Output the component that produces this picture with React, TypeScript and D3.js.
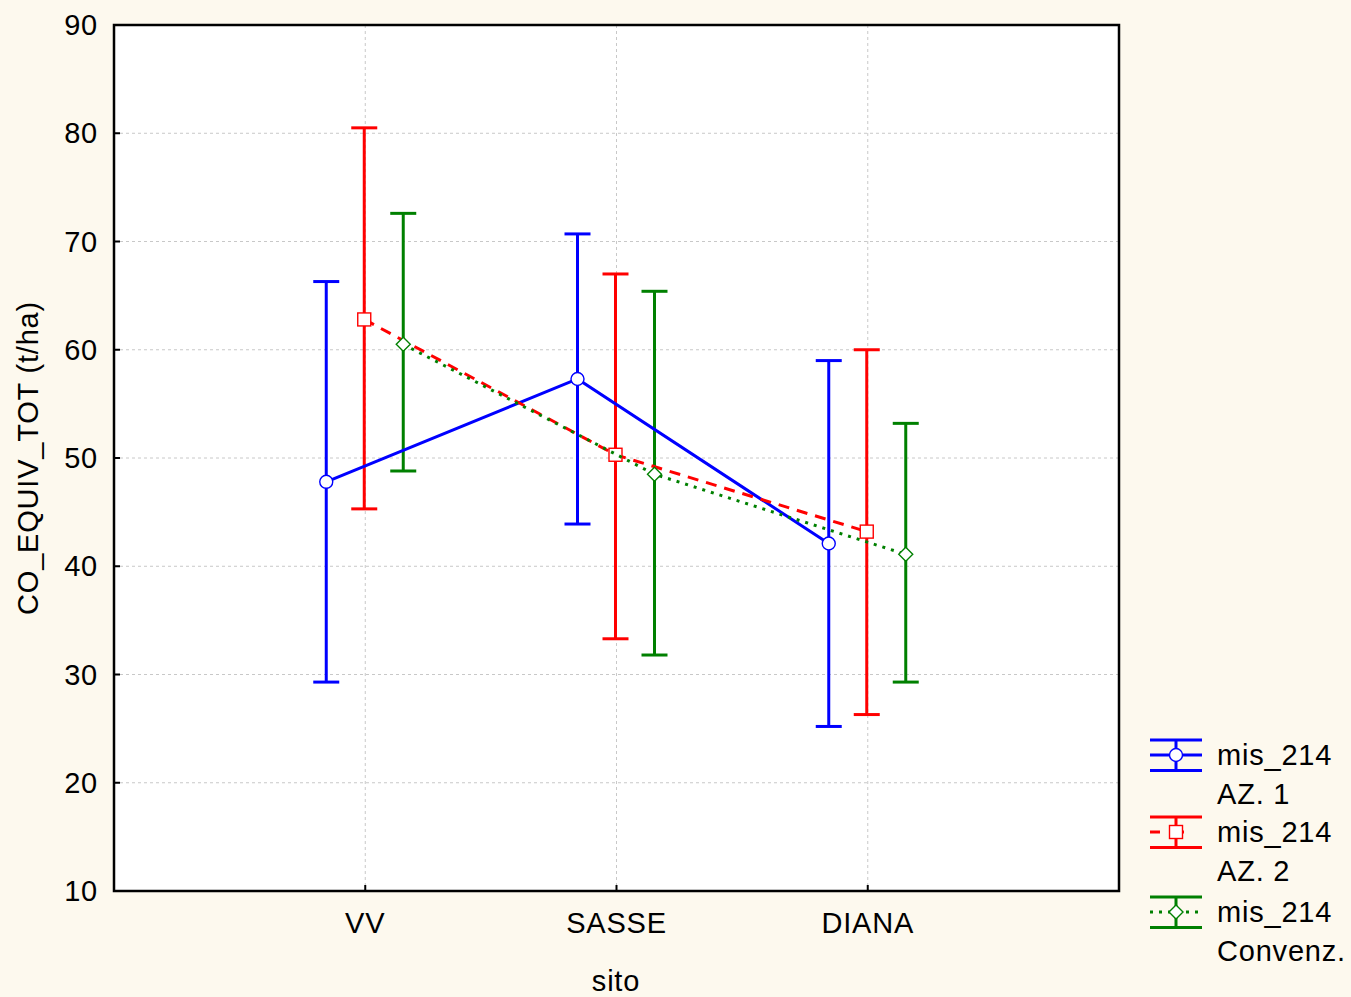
import React from "react";
import * as d3 from "d3";

const categories = ["VV", "SASSE", "DIANA"];
const seriesNames = ["mis_214\nAZ. 1", "mis_214\nAZ. 2", "mis_214\nConvenz."];
const blueMean = [47.8, 57.3, 42.1];
const blueUpper = [66.3, 70.7, 59.0];
const blueLower = [29.3, 43.9, 25.2];
const redMean = [62.8, 50.3, 43.2];
const redUpper = [80.5, 67.0, 60.0];
const redLower = [45.3, 33.3, 26.3];
const greenMean = [60.5, 48.5, 41.1];
const greenUpper = [72.6, 65.4, 53.2];
const greenLower = [48.8, 31.8, 29.3];
const yTicks = [10, 20, 30, 40, 50, 60, 70, 80, 90];

const W = 1351, H = 997;
const M = { left: 114, top: 25, right: 1119, bottom: 891 };
const FONT = "Liberation Sans, Arial, sans-serif";
const FS = 29;
const LS = 0.8;

type S = { name: string; color: string; mean: number[]; up: number[]; lo: number[]; dash: string | null; marker: string; off: number };

export default function App() {
  const x = d3.scalePoint<string>().domain(categories).range([M.left, M.right]).padding(1);
  const y = d3.scaleLinear().domain([10, 90]).range([M.bottom, M.top]);
  const series: S[] = [
    { name: seriesNames[0], color: "#0000FF", mean: blueMean, up: blueUpper, lo: blueLower, dash: null, marker: "circle", off: -39 },
    { name: seriesNames[1], color: "#FF0000", mean: redMean, up: redUpper, lo: redLower, dash: "11,8", marker: "square", off: -1 },
    { name: seriesNames[2], color: "#008000", mean: greenMean, up: greenUpper, lo: greenLower, dash: "3,6", marker: "diamond", off: 38 },
  ];
  const marker = (kind: string, cx: number, cy: number, color: string, key: string) => {
    if (kind === "circle") return <circle key={key} cx={cx} cy={cy} r={6.5} fill="#fff" stroke={color} strokeWidth={1.4} />;
    if (kind === "square") return <rect key={key} x={cx - 6.5} y={cy - 6.5} width={13} height={13} fill="#fff" stroke={color} strokeWidth={1.4} />;
    return <path key={key} d={`M${cx},${cy - 7}L${cx + 7},${cy}L${cx},${cy + 7}L${cx - 7},${cy}Z`} fill="#fff" stroke={color} strokeWidth={1.4} />;
  };
  const line = d3.line<[number, number]>().x((d) => d[0]).y((d) => d[1]);
  const legendY = [755, 832, 912];
  return (
    <svg width={W} height={H} style={{ position: "absolute", left: 0, top: 0, display: "block" }} fontFamily={FONT} letterSpacing={LS}>
      <rect x={0} y={0} width={W} height={H} fill="#FDF9EE" />
      <rect x={M.left} y={M.top} width={M.right - M.left} height={M.bottom - M.top} fill="#fff" />
      {yTicks.slice(1, -1).map((t) => (
        <line key={"gy" + t} x1={M.left} x2={M.right} y1={y(t)} y2={y(t)} stroke="#c8c8c8" strokeWidth={1} strokeDasharray="3,3" />
      ))}
      {categories.map((c) => (
        <line key={"gx" + c} x1={x(c)!} x2={x(c)!} y1={M.top} y2={M.bottom} stroke="#c8c8c8" strokeWidth={1} strokeDasharray="3,3" />
      ))}
      {yTicks.map((t) => (
        <g key={"t" + t}>
          <line x1={M.left} x2={M.left + 6} y1={y(t)} y2={y(t)} stroke="#000" strokeWidth={2} />
          <text x={M.left - 16} y={y(t) + 10} textAnchor="end" fontSize={FS} fill="#000">{t}</text>
        </g>
      ))}
      {categories.map((c) => (
        <g key={"xt" + c}>
          <line x1={x(c)!} x2={x(c)!} y1={M.bottom} y2={M.bottom - 6} stroke="#000" strokeWidth={2} />
          <text x={x(c)!} y={M.bottom + 42} textAnchor="middle" fontSize={FS} fill="#000">{c}</text>
        </g>
      ))}
      {series.map((s, si) => (
        <g key={"s" + si}>
          {categories.map((c, i) => {
            const cx = x(c)! + s.off;
            return (
              <g key={"e" + i}>
                <line x1={cx} x2={cx} y1={y(s.up[i])} y2={y(s.lo[i])} stroke={s.color} strokeWidth={3} />
                <line x1={cx - 13} x2={cx + 13} y1={y(s.up[i])} y2={y(s.up[i])} stroke={s.color} strokeWidth={3} />
                <line x1={cx - 13} x2={cx + 13} y1={y(s.lo[i])} y2={y(s.lo[i])} stroke={s.color} strokeWidth={3} />
              </g>
            );
          })}
        </g>
      ))}
      {series.map((s, si) => {
        const pts: [number, number][] = categories.map((c, i) => [x(c)! + s.off, y(s.mean[i])]);
        return (
          <g key={"l" + si}>
            <path d={line(pts)!} fill="none" stroke={s.color} strokeWidth={3} strokeDasharray={s.dash ?? undefined} />
            {pts.map((p, i) => marker(s.marker, p[0], p[1], s.color, "m" + i))}
          </g>
        );
      })}
      <rect x={M.left} y={M.top} width={M.right - M.left} height={M.bottom - M.top} fill="none" stroke="#000" strokeWidth={2.5} />
      <text transform={`translate(38,458) rotate(-90)`} textAnchor="middle" fontSize={FS} fill="#000">CO_EQUIV_TOT (t/ha)</text>
      <text x={616} y={991} textAnchor="middle" fontSize={FS} fill="#000">sito</text>
      {series.map((s, si) => {
        const cy = legendY[si];
        const cx = 1176;
        const [l1, l2] = s.name.split("\n");
        return (
          <g key={"lg" + si}>
            <line x1={1150} x2={1202} y1={cy - 15} y2={cy - 15} stroke={s.color} strokeWidth={3} />
            <line x1={1150} x2={1202} y1={cy + 15.5} y2={cy + 15.5} stroke={s.color} strokeWidth={3} />
            <line x1={cx} x2={cx} y1={cy - 15} y2={cy + 15.5} stroke={s.color} strokeWidth={3} />
            <line x1={1150} x2={1202} y1={cy} y2={cy} stroke={s.color} strokeWidth={3} strokeDasharray={si === 1 ? "10,16,8,30" : s.dash ?? undefined} />
            {marker(s.marker, cx, cy, s.color, "lm")}
            <text x={1217} y={cy + 10} fontSize={FS} fill="#000">{l1}</text>
            <text x={1217} y={cy + 49} fontSize={FS} fill="#000">{l2}</text>
          </g>
        );
      })}
    </svg>
  );
}
